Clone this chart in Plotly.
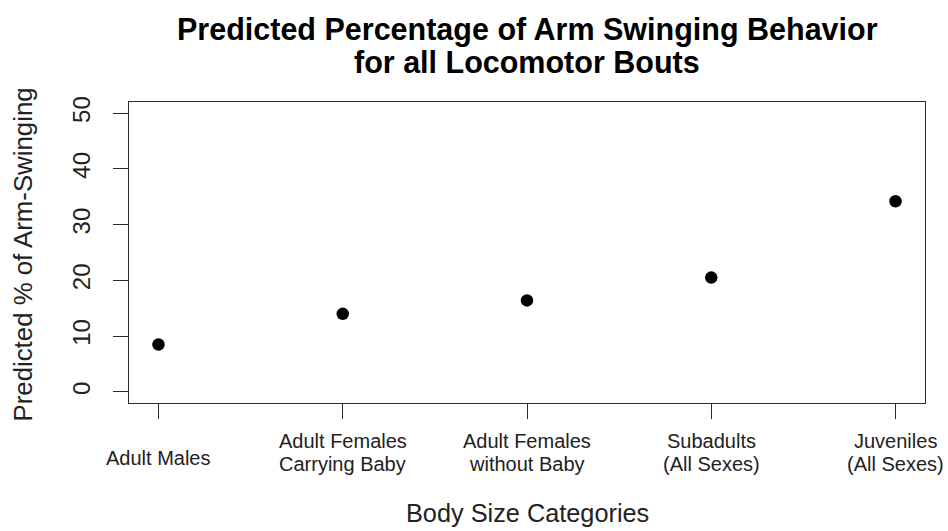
import plotly.graph_objects as go

# Body size categories and model-predicted arm-swinging percentages
categories = [
    "Adult Males",
    "Adult Females Carrying Baby",
    "Adult Females without Baby",
    "Subadults (All Sexes)",
    "Juveniles (All Sexes)",
]
label_lines = [
    ["Adult Males"],
    ["Adult Females", "Carrying Baby"],
    ["Adult Females", "without Baby"],
    ["Subadults", "(All Sexes)"],
    ["Juveniles", "(All Sexes)"],
]
predicted_pct = [8.5, 14.0, 16.4, 20.5, 34.2]
y_ticks = [0, 10, 20, 30, 40, 50]

FONT = "Liberation Sans, Arial, Helvetica, sans-serif"
AXIS_COLOR = "#2b2b2b"

fig = go.Figure()
fig.add_trace(go.Scatter(
    x=categories,
    y=predicted_pct,
    mode="markers",
    marker=dict(color="black", size=12.5, symbol="circle"),
    hoverinfo="x+y",
    showlegend=False,
))

annotations = []
# Two-line main title, centred over the plotting region
annotations.append(dict(text="<b>Predicted Percentage of Arm Swinging Behavior</b>",
                        xref="paper", yref="paper", x=0.5, y=1, yshift=73,
                        xanchor="center", yanchor="middle", showarrow=False,
                        font=dict(family=FONT, size=30.5, color="black")))
annotations.append(dict(text="<b>for all Locomotor Bouts</b>",
                        xref="paper", yref="paper", x=0.5, y=1, yshift=40,
                        xanchor="center", yanchor="middle", showarrow=False,
                        font=dict(family=FONT, size=30.5, color="black")))

# Category labels under each tick (one or two lines)
for cat, lines in zip(categories, label_lines):
    if len(lines) == 1:
        shifts = [-55]
    else:
        shifts = [-38, -61]
    for line, sh in zip(lines, shifts):
        annotations.append(dict(text=line, xref="x", yref="paper", x=cat, y=0,
                                yshift=sh, xanchor="center", yanchor="middle",
                                showarrow=False,
                                font=dict(family=FONT, size=20, color="#222222")))

# Axis titles
annotations.append(dict(text="Body Size Categories", xref="paper", yref="paper",
                        x=0.5, y=0, yshift=-110, xanchor="center", yanchor="middle",
                        showarrow=False, font=dict(family=FONT, size=25.3, color="#222222")))
annotations.append(dict(text="Predicted % of Arm-Swinging", xref="paper", yref="paper",
                        x=0, y=0.5, xshift=-107, yshift=-2, xanchor="center", yanchor="middle",
                        textangle=-90, showarrow=False,
                        font=dict(family=FONT, size=25.8, color="#222222")))

fig.update_layout(
    width=948,
    height=531,
    margin=dict(l=129, r=23, t=102, b=128),
    paper_bgcolor="white",
    plot_bgcolor="white",
    font=dict(family=FONT, color="#222222"),
    annotations=annotations,
    xaxis=dict(
        type="category",
        range=[-0.16, 4.16],
        showgrid=False,
        zeroline=False,
        showline=True,
        mirror=True,
        linecolor=AXIS_COLOR,
        linewidth=1.3,
        ticks="outside",
        ticklen=15,
        tickwidth=1.3,
        tickcolor=AXIS_COLOR,
        showticklabels=False,
    ),
    yaxis=dict(
        range=[-2, 52],
        tickmode="array",
        tickvals=y_ticks,
        ticktext=[str(v) for v in y_ticks],
        tickangle=-90,
        tickfont=dict(family=FONT, size=24, color="#222222"),
        ticklabelstandoff=13,
        showgrid=False,
        zeroline=False,
        showline=True,
        mirror=True,
        linecolor=AXIS_COLOR,
        linewidth=1.3,
        ticks="outside",
        ticklen=15,
        tickwidth=1.3,
        tickcolor=AXIS_COLOR,
    ),
)

fig.write_html("out.html")
